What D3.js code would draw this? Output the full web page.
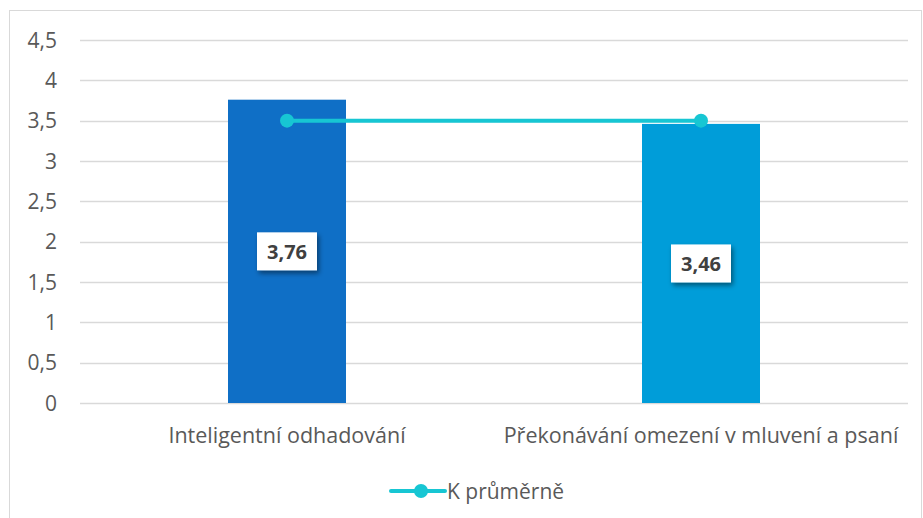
<!DOCTYPE html>
<html>
<head>
<meta charset="utf-8">
<script src="https://cdn.jsdelivr.net/npm/d3@7"></script>
<style>
  body { margin: 0; background: #fff; }
  svg { font-family: "Open Sans", Lato, sans-serif; }
</style>
</head>
<body>
<svg id="chart"></svg>
<script>
const width = 923
const height = 518
const categories = ['Inteligentní odhadování', 'Překonávání omezení v mluvení a psaní']
const barValues = [3.76, 3.46]
const lineValues = [3.5, 3.5]
const barColors = ['#0f6fc6', '#009dd9']
const ticks = [0, 0.5, 1, 1.5, 2, 2.5, 3, 3.5, 4, 4.5]
const lineName = 'K průměrně'
const lineColor = '#17c6d3'

const margin = { top: 40, right: 15, bottom: 115, left: 80 }
const fmt = v => String(v).replace('.', ',')

const svg = d3.select('#chart').attr('width', width).attr('height', height)

const defs = svg.append('defs')
const shadow = defs.append('filter').attr('id', 'shadow')
  .attr('x', '-20%').attr('y', '-20%').attr('width', '150%').attr('height', '160%')
shadow.append('feDropShadow')
  .attr('dx', 2).attr('dy', 3).attr('stdDeviation', 2.5)
  .attr('flood-color', '#000').attr('flood-opacity', 0.45)

// outer border
svg.append('rect')
  .attr('x', 9.5).attr('y', 10.5)
  .attr('width', 912).attr('height', 520)
  .attr('fill', 'none').attr('stroke', '#d9d9d9')

const x = d3.scaleBand()
  .domain(categories)
  .range([margin.left, width - margin.right])
  .paddingInner(0.715).paddingOuter(0.3575)

const y = d3.scaleLinear()
  .domain([0, 4.5])
  .range([height - margin.bottom, margin.top])

// gridlines
svg.append('g')
  .selectAll('line')
  .data(ticks)
  .enter()
  .append('line')
  .attr('x1', margin.left)
  .attr('x2', width - margin.right)
  .attr('y1', d => Math.round(y(d)) + 0.5)
  .attr('y2', d => Math.round(y(d)) + 0.5)
  .attr('stroke', '#d9d9d9')
  .attr('stroke-width', 1.3)

// y tick labels
svg.append('g')
  .selectAll('text')
  .data(ticks)
  .enter()
  .append('text')
  .attr('x', 57)
  .attr('y', d => y(d))
  .attr('dy', '0.36em')
  .attr('text-anchor', 'end')
  .attr('fill', '#595959')
  .style('font-size', '21px')
  .text(d => fmt(d))

// bars
svg.append('g')
  .selectAll('rect')
  .data(barValues)
  .enter()
  .append('rect')
  .attr('x', (d, i) => x(categories[i]))
  .attr('width', x.bandwidth())
  .attr('y', d => y(d))
  .attr('height', d => y(0) - y(d))
  .attr('fill', (d, i) => barColors[i])

// category labels
svg.append('g')
  .selectAll('text')
  .data(categories)
  .enter()
  .append('text')
  .attr('x', d => x(d) + x.bandwidth() / 2)
  .attr('y', y(0) + 40)
  .attr('text-anchor', 'middle')
  .attr('fill', '#595959')
  .style('font-size', '21.5px')
  .text(d => d)

// line series
const cx = (d, i) => x(categories[i]) + x.bandwidth() / 2
const line = d3.line().x(cx).y(d => y(d))
svg.append('path')
  .datum(lineValues)
  .attr('d', line)
  .attr('fill', 'none')
  .attr('stroke', lineColor)
  .attr('stroke-width', 4)

svg.append('g')
  .selectAll('circle')
  .data(lineValues)
  .enter()
  .append('circle')
  .attr('cx', cx)
  .attr('cy', d => y(d))
  .attr('r', 7)
  .attr('fill', lineColor)

// data labels
const labels = svg.append('g')
  .selectAll('g')
  .data(barValues)
  .enter()
  .append('g')
  .attr('transform', (d, i) => `translate(${cx(d, i)}, ${(y(d) + y(0)) / 2})`)

labels.append('rect')
  .attr('x', -30).attr('y', -19)
  .attr('width', 60).attr('height', 38)
  .attr('fill', '#fff')
  .attr('filter', 'url(#shadow)')

labels.append('text')
  .attr('text-anchor', 'middle')
  .attr('dy', '0.36em')
  .attr('fill', '#404040')
  .style('font-size', '20px')
  .style('font-weight', 'bold')
  .text(d => fmt(d))

// legend
const legend = svg.append('g').attr('transform', 'translate(391, 491)')
legend.append('line')
  .attr('x1', 0).attr('x2', 54)
  .attr('stroke', lineColor).attr('stroke-width', 4)
  .attr('stroke-linecap', 'round')
legend.append('circle').attr('cx', 30).attr('r', 7).attr('fill', lineColor)
legend.append('text')
  .attr('x', 56).attr('dy', '0.36em')
  .attr('fill', '#595959')
  .style('font-size', '21px')
  .text(lineName)
</script>
</body>
</html>
